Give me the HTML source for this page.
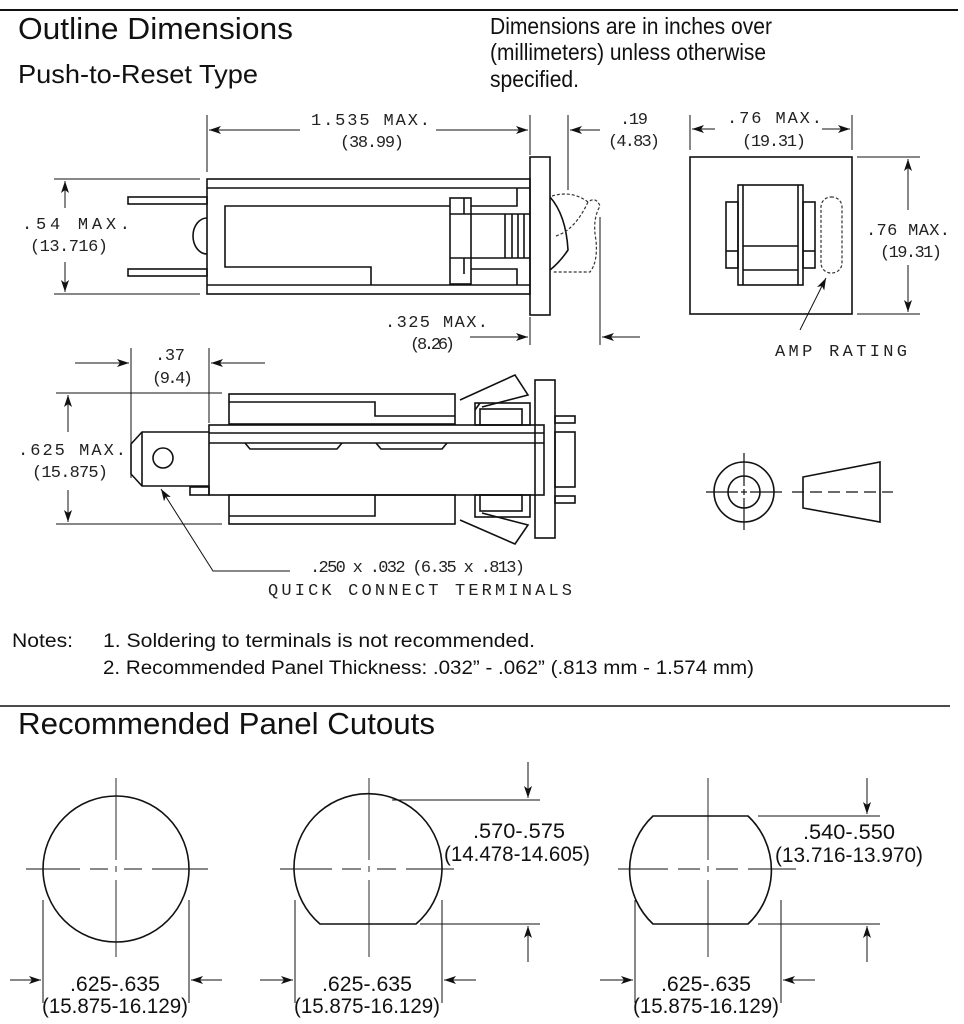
<!DOCTYPE html>
<html><head><meta charset="utf-8"><style>
html,body{margin:0;padding:0;background:#fff;}
svg{display:block;}
.m{font-family:"Liberation Mono",monospace;font-size:17px;fill:#222;}
.s{font-family:"Liberation Sans",sans-serif;fill:#111;}
</style></head><body>
<svg width="964" height="1024" viewBox="0 0 964 1024" xmlns="http://www.w3.org/2000/svg">
<defs>
<marker id="a" viewBox="0 0 12 8" refX="12" refY="4" markerWidth="12" markerHeight="8" markerUnits="userSpaceOnUse" orient="auto"><path d="M0,0 L12,4 L0,8 L3,4 z" fill="#111"/></marker>
</defs>
<g stroke="#111" fill="none" stroke-width="1.2">
<line x1="0" y1="10" x2="958" y2="10" stroke-width="2"/>
<line x1="0" y1="706" x2="950" y2="706" stroke-width="1.5"/>
</g>
<text class="s" x="18" y="39" font-size="31" textLength="275" lengthAdjust="spacingAndGlyphs">Outline Dimensions</text>
<text class="s" x="18" y="83" font-size="26" textLength="240" lengthAdjust="spacingAndGlyphs">Push-to-Reset Type</text>
<text class="s" x="490" y="34" font-size="23" textLength="282" lengthAdjust="spacingAndGlyphs">Dimensions are in inches over</text>
<text class="s" x="490" y="60" font-size="23" textLength="276" lengthAdjust="spacingAndGlyphs">(millimeters) unless otherwise</text>
<text class="s" x="490" y="87" font-size="23" textLength="89" lengthAdjust="spacingAndGlyphs">specified.</text>
<text class="s" x="12" y="647" font-size="19" textLength="61" lengthAdjust="spacingAndGlyphs">Notes:</text>
<text class="s" x="103" y="647" font-size="19" textLength="432" lengthAdjust="spacingAndGlyphs">1. Soldering to terminals is not recommended.</text>
<text class="s" x="103" y="674" font-size="19" textLength="651" lengthAdjust="spacingAndGlyphs">2. Recommended Panel Thickness:  .032” - .062” (.813 mm - 1.574 mm)</text>
<text class="s" x="18" y="734" font-size="31" textLength="417" lengthAdjust="spacingAndGlyphs">Recommended Panel Cutouts</text>

<!-- View 1 -->
<g stroke="#111" fill="none" stroke-width="1.6">
<rect x="207" y="179" width="323" height="115"/>
<line x1="207" y1="188" x2="530" y2="188"/>
<line x1="207" y1="285" x2="530" y2="285"/>
<rect x="530" y="157" width="20" height="158"/>
<rect x="128" y="197" width="79" height="7"/>
<rect x="128" y="269" width="79" height="7"/>
<path d="M207,218 A14,18 0 0 0 207,254"/>
<path d="M450,206 L225,206 L225,267 L371,267 L371,285"/>
<rect x="450" y="198" width="21" height="86"/>
<line x1="450" y1="214" x2="471" y2="214"/>
<line x1="450" y1="258" x2="471" y2="258"/>
<line x1="464" y1="198" x2="464" y2="214"/>
<line x1="464" y1="258" x2="464" y2="274"/>
<path d="M471,206 L517,206 L517,188"/>
<path d="M471,269 L517,269 L517,285"/>
<line x1="471" y1="214" x2="530" y2="214"/>
<line x1="471" y1="258" x2="530" y2="258"/>
<line x1="505" y1="214" x2="505" y2="258"/>
<line x1="512" y1="214" x2="512" y2="258"/>
<line x1="518" y1="214" x2="518" y2="258"/>
<line x1="524" y1="214" x2="524" y2="258"/>
<path d="M550,197 Q566,215 568,250 Q560,262 550,270"/>
</g>
<path d="M552,196 Q572,190 588,202 Q596,196 600,206 Q592,220 596,240 Q598,262 590,272 L552,272 M556,236 Q575,230 588,202" stroke="#333" stroke-width="1.2" stroke-dasharray="3,2" fill="none"/>
<g stroke="#111" stroke-width="1">
<line x1="207" y1="115" x2="207" y2="172"/>
<line x1="530" y1="115" x2="530" y2="155"/>
<line x1="300" y1="130" x2="209" y2="130" marker-end="url(#a)"/>
<line x1="436" y1="130" x2="528" y2="130" marker-end="url(#a)"/>
<line x1="568" y1="115" x2="568" y2="190"/>
<line x1="600" y1="130" x2="570" y2="130" marker-end="url(#a)"/>
<line x1="54" y1="179" x2="200" y2="179"/>
<line x1="54" y1="294" x2="200" y2="294"/>
<line x1="65" y1="208" x2="65" y2="181" marker-end="url(#a)"/>
<line x1="65" y1="262" x2="65" y2="292" marker-end="url(#a)"/>
<line x1="530" y1="317" x2="530" y2="345"/>
<line x1="600" y1="217" x2="600" y2="345"/>
<line x1="470" y1="337" x2="528" y2="337" marker-end="url(#a)"/>
<line x1="640" y1="337" x2="602" y2="337" marker-end="url(#a)"/>
</g>
<text class="m" x="311" y="125" textLength="119" lengthAdjust="spacing">1.535 MAX.</text>
<text class="m" x="340" y="147" textLength="64" lengthAdjust="spacing">(38.99)</text>
<text class="m" x="620" y="124" textLength="28" lengthAdjust="spacing">.19</text>
<text class="m" x="608" y="146" textLength="52" lengthAdjust="spacing">(4.83)</text>
<text class="m" x="22" y="229" textLength="108" lengthAdjust="spacing">.54 MAX.</text>
<text class="m" x="30" y="251" textLength="78" lengthAdjust="spacing">(13.716)</text>
<text class="m" x="385" y="327" textLength="103" lengthAdjust="spacing">.325 MAX.</text>
<text class="m" x="410" y="349" textLength="45" lengthAdjust="spacing">(8.26)</text>

<!-- View 2 -->
<g stroke="#111" fill="none" stroke-width="1.6">
<rect x="229" y="394" width="226" height="30"/>
<path d="M229,402 L375,402 L375,416 L455,416"/>
<rect x="209" y="425" width="335" height="70"/>
<line x1="209" y1="433" x2="544" y2="433"/>
<line x1="209" y1="443" x2="544" y2="443"/>
<path d="M245,443 L250,449 L337,449 L342,443"/>
<path d="M376,443 L381,449 L442,449 L447,443"/>
<rect x="190" y="487" width="19" height="8"/>
<path d="M209,432 L142,432 L131,444 L131,474 L142,486 L209,486"/>
<line x1="142" y1="432" x2="142" y2="486"/>
<circle cx="163" cy="458" r="10"/>
<rect x="229" y="495" width="226" height="29"/>
<path d="M375,495 L375,516 L229,516"/>
<path d="M460,400 L515,375 L528,395 L482,407"/>
<rect x="475" y="403" width="55" height="22"/>
<rect x="480" y="409" width="42" height="16"/>
<path d="M475,410 L480,403"/>
<path d="M460,520 L515,544 L528,525 L482,513"/>
<rect x="475" y="495" width="55" height="22"/>
<rect x="480" y="495" width="42" height="16"/>
<rect x="535" y="380" width="20" height="158"/>
<rect x="555" y="416" width="20" height="7"/>
<rect x="555" y="496" width="20" height="7"/>
<rect x="555" y="432" width="20" height="55"/>
</g>
<g stroke="#111" stroke-width="1">
<line x1="131" y1="348" x2="131" y2="478"/>
<line x1="209" y1="348" x2="209" y2="423"/>
<line x1="75" y1="363" x2="129" y2="363" marker-end="url(#a)"/>
<line x1="265" y1="363" x2="211" y2="363" marker-end="url(#a)"/>
<line x1="56" y1="393" x2="222" y2="393"/>
<line x1="56" y1="524" x2="222" y2="524"/>
<line x1="68" y1="432" x2="68" y2="395" marker-end="url(#a)"/>
<line x1="68" y1="490" x2="68" y2="522" marker-end="url(#a)"/>
<polyline points="290,571 213,571 161,489" fill="none" marker-end="url(#a)"/>
</g>
<text class="m" x="155" y="360" textLength="30" lengthAdjust="spacing">.37</text>
<text class="m" x="152" y="383" textLength="41" lengthAdjust="spacing">(9.4)</text>
<text class="m" x="18" y="455" textLength="108" lengthAdjust="spacing">.625 MAX.</text>
<text class="m" x="32" y="477" textLength="76" lengthAdjust="spacing">(15.875)</text>
<text class="m" x="310" y="572" textLength="215" lengthAdjust="spacing">.250 x .032 (6.35 x .813)</text>
<text class="m" x="268" y="595" textLength="304" lengthAdjust="spacing">QUICK CONNECT TERMINALS</text>

<!-- Top view -->
<g stroke="#111" fill="none" stroke-width="1.6">
<rect x="690" y="157" width="162" height="157"/>
<rect x="738" y="185" width="65" height="100"/>
<line x1="743" y1="185" x2="743" y2="285"/>
<line x1="798" y1="185" x2="798" y2="285"/>
<line x1="743" y1="246" x2="798" y2="246"/>
<line x1="743" y1="270" x2="798" y2="270"/>
<rect x="726" y="202" width="12" height="66"/>
<line x1="726" y1="251" x2="738" y2="251"/>
<rect x="803" y="202" width="12" height="66"/>
<line x1="803" y1="251" x2="815" y2="251"/>
</g>
<rect x="821" y="197" width="21" height="76" rx="10" stroke="#333" stroke-width="1.2" stroke-dasharray="3,2" fill="none"/>
<g stroke="#111" stroke-width="1">
<line x1="800" y1="330" x2="826" y2="278" marker-end="url(#a)"/>
<line x1="690" y1="115" x2="690" y2="150"/>
<line x1="852" y1="115" x2="852" y2="150"/>
<line x1="715" y1="129" x2="692" y2="129" marker-end="url(#a)"/>
<line x1="822" y1="129" x2="850" y2="129" marker-end="url(#a)"/>
<line x1="857" y1="157" x2="920" y2="157"/>
<line x1="857" y1="314" x2="920" y2="314"/>
<line x1="908" y1="210" x2="908" y2="159" marker-end="url(#a)"/>
<line x1="908" y1="265" x2="908" y2="312" marker-end="url(#a)"/>
</g>
<text class="m" x="727" y="123" textLength="95" lengthAdjust="spacing">.76 MAX.</text>
<text class="m" x="742" y="146" textLength="64" lengthAdjust="spacing">(19.31)</text>
<text class="m" x="866" y="235" textLength="84" lengthAdjust="spacing">.76 MAX.</text>
<text class="m" x="880" y="257" textLength="62" lengthAdjust="spacing">(19.31)</text>
<text class="m" x="775" y="356" textLength="132" lengthAdjust="spacing">AMP RATING</text>

<!-- symbols -->
<g stroke="#111" fill="none" stroke-width="1.6">
<circle cx="744" cy="492" r="30"/>
<circle cx="744" cy="492" r="16"/>
<path d="M803,477 L880,462 L880,522 L803,508 Z"/>
</g>
<g stroke="#111" stroke-width="1.2">
<line x1="706" y1="492" x2="738" y2="492"/><line x1="750" y1="492" x2="782" y2="492"/>
<line x1="741" y1="492" x2="747" y2="492"/>
<line x1="744" y1="453" x2="744" y2="486"/><line x1="744" y1="498" x2="744" y2="530"/>
<line x1="744" y1="489" x2="744" y2="495"/>
<line x1="792" y1="492" x2="893" y2="492" stroke-dasharray="12,6"/>
</g>

<!-- Cutouts -->
<g stroke="#111" fill="none" stroke-width="1.6">
<ellipse cx="116" cy="869" rx="73" ry="73"/>
<path d="M320,924 A74,74 0 1 1 416,924 Z"/>
<path d="M653,816 L748,816 A74,74 0 0 1 748,924 L653,924 A74,74 0 0 1 653,816 Z"/>
</g>
<g stroke="#111" stroke-width="0.9">
<line x1="116" y1="778" x2="116" y2="860"/><line x1="116" y1="866" x2="116" y2="872"/><line x1="116" y1="880" x2="116" y2="957"/>
<line x1="26" y1="869" x2="80" y2="869"/><line x1="90" y1="869" x2="108" y2="869"/><line x1="124" y1="869" x2="142" y2="869"/><line x1="152" y1="869" x2="208" y2="869"/>
<line x1="369" y1="778" x2="369" y2="860"/><line x1="369" y1="866" x2="369" y2="872"/><line x1="369" y1="880" x2="369" y2="957"/>
<line x1="280" y1="869" x2="332" y2="869"/><line x1="342" y1="869" x2="361" y2="869"/><line x1="377" y1="869" x2="396" y2="869"/><line x1="406" y1="869" x2="454" y2="869"/>
<line x1="708" y1="778" x2="708" y2="860"/><line x1="708" y1="866" x2="708" y2="872"/><line x1="708" y1="880" x2="708" y2="957"/>
<line x1="618" y1="869" x2="668" y2="869"/><line x1="678" y1="869" x2="700" y2="869"/><line x1="716" y1="869" x2="738" y2="869"/><line x1="748" y1="869" x2="796" y2="869"/>
</g>
<g stroke="#111" stroke-width="1">
<line x1="43" y1="900" x2="43" y2="1003"/><line x1="189" y1="900" x2="189" y2="1003"/>
<line x1="10" y1="980" x2="41" y2="980" marker-end="url(#a)"/><line x1="222" y1="980" x2="191" y2="980" marker-end="url(#a)"/>
<line x1="295" y1="900" x2="295" y2="1003"/><line x1="442" y1="900" x2="442" y2="1003"/>
<line x1="260" y1="980" x2="293" y2="980" marker-end="url(#a)"/><line x1="476" y1="980" x2="444" y2="980" marker-end="url(#a)"/>
<line x1="635" y1="900" x2="635" y2="1003"/><line x1="781" y1="900" x2="781" y2="1003"/>
<line x1="600" y1="980" x2="633" y2="980" marker-end="url(#a)"/><line x1="815" y1="980" x2="783" y2="980" marker-end="url(#a)"/>
<line x1="392" y1="800" x2="540" y2="800"/><line x1="420" y1="924" x2="540" y2="924"/>
<line x1="528" y1="762" x2="528" y2="798" marker-end="url(#a)"/>
<line x1="528" y1="962" x2="528" y2="926" marker-end="url(#a)"/>
<line x1="758" y1="816" x2="880" y2="816"/><line x1="758" y1="924" x2="880" y2="924"/>
<line x1="867" y1="778" x2="867" y2="814" marker-end="url(#a)"/>
<line x1="867" y1="962" x2="867" y2="926" marker-end="url(#a)"/>
</g>
<g class="s" font-size="21">
<text x="70" y="991" textLength="90" lengthAdjust="spacingAndGlyphs">.625-.635</text><text x="42" y="1013" textLength="146" lengthAdjust="spacingAndGlyphs">(15.875-16.129)</text>
<text x="322" y="991" textLength="90" lengthAdjust="spacingAndGlyphs">.625-.635</text><text x="294" y="1013" textLength="146" lengthAdjust="spacingAndGlyphs">(15.875-16.129)</text>
<text x="661" y="991" textLength="90" lengthAdjust="spacingAndGlyphs">.625-.635</text><text x="633" y="1013" textLength="146" lengthAdjust="spacingAndGlyphs">(15.875-16.129)</text>
<text x="473" y="838" textLength="92" lengthAdjust="spacingAndGlyphs">.570-.575</text><text x="444" y="861" textLength="146" lengthAdjust="spacingAndGlyphs">(14.478-14.605)</text>
<text x="803" y="839" textLength="92" lengthAdjust="spacingAndGlyphs">.540-.550</text><text x="775" y="862" textLength="148" lengthAdjust="spacingAndGlyphs">(13.716-13.970)</text>
</g>
</svg>
</body></html>
